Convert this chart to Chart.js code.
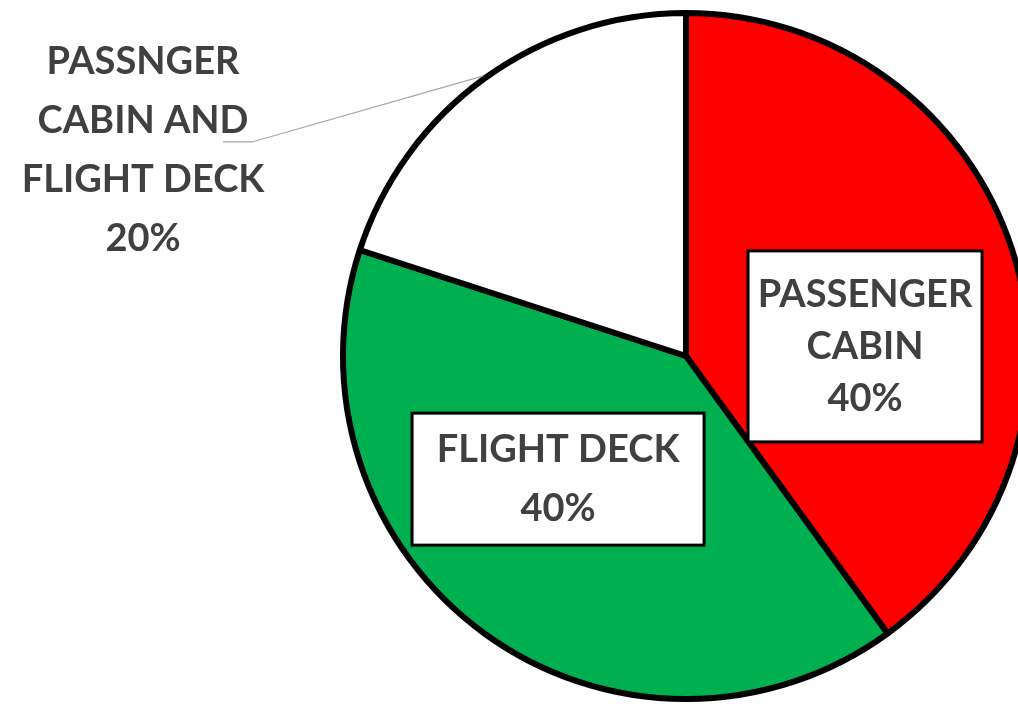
<!DOCTYPE html>
<html>
<head>
<meta charset="utf-8">
<title>Cabin areas</title>
<script src="https://cdn.jsdelivr.net/npm/chart.js@4.4.1/dist/chart.umd.min.js"></script>
<style>
  html, body { margin: 0; padding: 0; background: #fff; overflow: hidden; }
  #wrap { position: absolute; left: 0; top: 4px; width: 1372px; height: 704px; }
</style>
</head>
<body>
<div id="wrap"><canvas id="cabinChart" width="1372" height="704"></canvas></div>
<script>
// Slice data
const categories = ['PASSENGER CABIN', 'FLIGHT DECK', 'PASSNGER CABIN AND FLIGHT DECK'];
const shares = [40, 40, 20];
const labelLines = [
    ['PASSENGER', 'CABIN'],
    ['FLIGHT DECK'],
    ['PASSNGER', 'CABIN AND', 'FLIGHT DECK']
];
const sliceColors = ['#ff0000', '#00b050', '#ffffff'];

// Label placement, in units of the pie radius from its centre
const labelLayout = [
    { dx: 0.522, dy: -0.028, w: 234, h: 191, lineH: 52, boxed: true },
    { dx: -0.373, dy: 0.359, w: 292, h: 132, lineH: 59, boxed: true },
    { dx: -1.583, dy: -0.601, lineH: 59, boxed: false, elbow: [-1.265, -0.624], tail: [-1.350, -0.624] }
];

// Draws the data labels (boxes, text and the leader line)
const sliceLabels = {
    id: 'sliceLabels',
    afterDatasetsDraw(chart) {
        const ctx = chart.ctx;
        const arcs = chart.getDatasetMeta(0).data;
        ctx.save();
        arcs.forEach((arc, i) => {
            const r = arc.outerRadius;
            const lay = labelLayout[i];
            const cx = arc.x + lay.dx * r;
            const cy = arc.y + lay.dy * r;

            if (lay.elbow) {
                const mid = (arc.startAngle + arc.endAngle) / 2;
                ctx.beginPath();
                ctx.strokeStyle = '#a6a6a6';
                ctx.lineWidth = 1.2;
                ctx.moveTo(arc.x + Math.cos(mid) * (r + 3), arc.y + Math.sin(mid) * (r + 3));
                ctx.lineTo(arc.x + lay.elbow[0] * r, arc.y + lay.elbow[1] * r);
                ctx.lineTo(arc.x + lay.tail[0] * r, arc.y + lay.tail[1] * r);
                ctx.stroke();
            }

            if (lay.boxed) {
                ctx.fillStyle = '#ffffff';
                ctx.strokeStyle = '#000000';
                ctx.lineWidth = 3;
                ctx.fillRect(cx - lay.w / 2, cy - lay.h / 2, lay.w, lay.h);
                ctx.strokeRect(cx - lay.w / 2, cy - lay.h / 2, lay.w, lay.h);
            }

            const lines = labelLines[i].concat([shares[i] + '%']);
            ctx.fillStyle = '#404040';
            ctx.font = 'bold 38px Lato';
            ctx.textAlign = 'center';
            ctx.textBaseline = 'middle';
            lines.forEach((t, k) => {
                ctx.fillText(t, cx, cy + (k - (lines.length - 1) / 2) * lay.lineH);
            });
        });
        ctx.restore();
    }
};

new Chart(document.getElementById('cabinChart'), {
    type: 'pie',
    data: {
        labels: categories,
        datasets: [{
            data: shares,
            backgroundColor: sliceColors,
            borderColor: '#000000',
            borderWidth: 6
        }]
    },
    options: {
        responsive: false,
        animation: false,
        radius: 343,
        layout: { padding: 0 },
        plugins: {
            legend: { display: false },
            tooltip: { enabled: false }
        }
    },
    plugins: [sliceLabels]
});
</script>
</body>
</html>
